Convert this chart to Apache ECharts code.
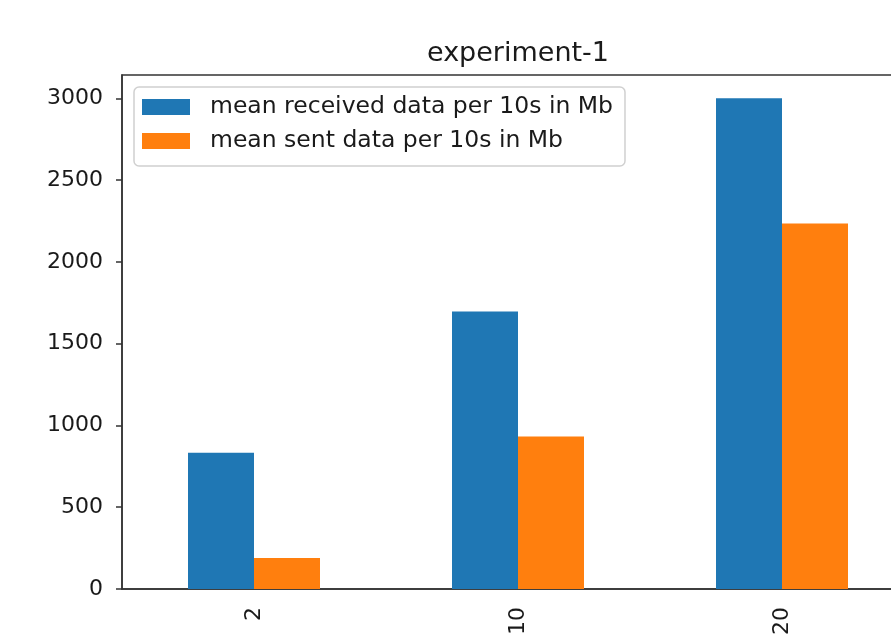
<!DOCTYPE html>
<html>
<head>
<meta charset="utf-8">
<title>experiment-1</title>
<script src="https://cdn.jsdelivr.net/npm/echarts@6/dist/echarts.min.js"></script>
<style>
  html, body { margin: 0; padding: 0; background: #fff; overflow: hidden; }
  #chart { width: 891px; height: 640px; }
</style>
</head>
<body>
<div id="chart"></div>
<script>
// Client counts on the x axis
const categories = ['2', '10', '20'];
// Mean traffic per 10 s window, in Mb
const receivedMb = [833, 1697, 3001];
const sentMb = [190, 933, 2235];
// Y tick positions
const yTicks = [0, 500, 1000, 1500, 2000, 2500, 3000];

const seriesNames = ['mean received data per 10s in Mb', 'mean sent data per 10s in Mb'];
const FONT = '"DejaVu Sans", sans-serif';
const INK = '#1a1a1a';

const chart = echarts.init(document.getElementById('chart'), null, { renderer: 'canvas' });

chart.setOption({
  animation: false,
  color: ['#1f77b4', '#ff7f0e'],
  title: {
    text: 'experiment-1',
    left: 513,
    top: 35,
    textAlign: 'center',
    textStyle: { fontFamily: FONT, fontSize: 27, fontWeight: 'normal', color: INK }
  },
  legend: {
    orient: 'vertical',
    left: 134,
    top: 87,
    padding: [8, 12, 13, 8],
    itemWidth: 48,
    itemHeight: 16,
    itemGap: 10,
    icon: 'rect',
    borderColor: '#d0d0d0',
    borderWidth: 1.5,
    borderRadius: 5,
    backgroundColor: 'rgba(255,255,255,0.8)',
    textStyle: { fontFamily: FONT, fontSize: 23.5, color: INK, padding: [0, 0, 0, 15] },
    data: seriesNames
  },
  // the plot area runs past the right edge of the canvas
  grid: {
    left: 122,
    top: 75,
    width: 792,
    bottom: 51,
    outerBoundsMode: 'none',
    show: true,
    borderColor: '#333',
    borderWidth: 1.5,
    backgroundColor: 'transparent'
  },
  xAxis: {
    type: 'category',
    data: categories,
    boundaryGap: true,
    axisLine: { lineStyle: { color: '#333', width: 1.5 } },
    axisTick: { alignWithLabel: true, length: 6, lineStyle: { color: '#333', width: 1.5 } },
    axisLabel: { rotate: 90, margin: 18, fontFamily: FONT, fontSize: 22, color: INK }
  },
  yAxis: {
    type: 'value',
    min: 0,
    max: 3143,
    splitLine: { show: false },
    axisLine: { show: true, lineStyle: { color: '#333', width: 1.5 } },
    axisTick: { show: true, length: 6, customValues: yTicks, lineStyle: { color: '#333', width: 1.5 } },
    axisLabel: {
      customValues: yTicks,
      margin: 19,
      fontFamily: FONT,
      fontSize: 22,
      color: INK,
      formatter: v => String(v)
    }
  },
  series: [
    {
      name: seriesNames[0],
      type: 'bar',
      data: receivedMb,
      barWidth: '25%',
      barGap: '0%'
    },
    {
      name: seriesNames[1],
      type: 'bar',
      data: sentMb,
      barWidth: '25%',
      barGap: '0%'
    }
  ]
});
</script>
</body>
</html>
